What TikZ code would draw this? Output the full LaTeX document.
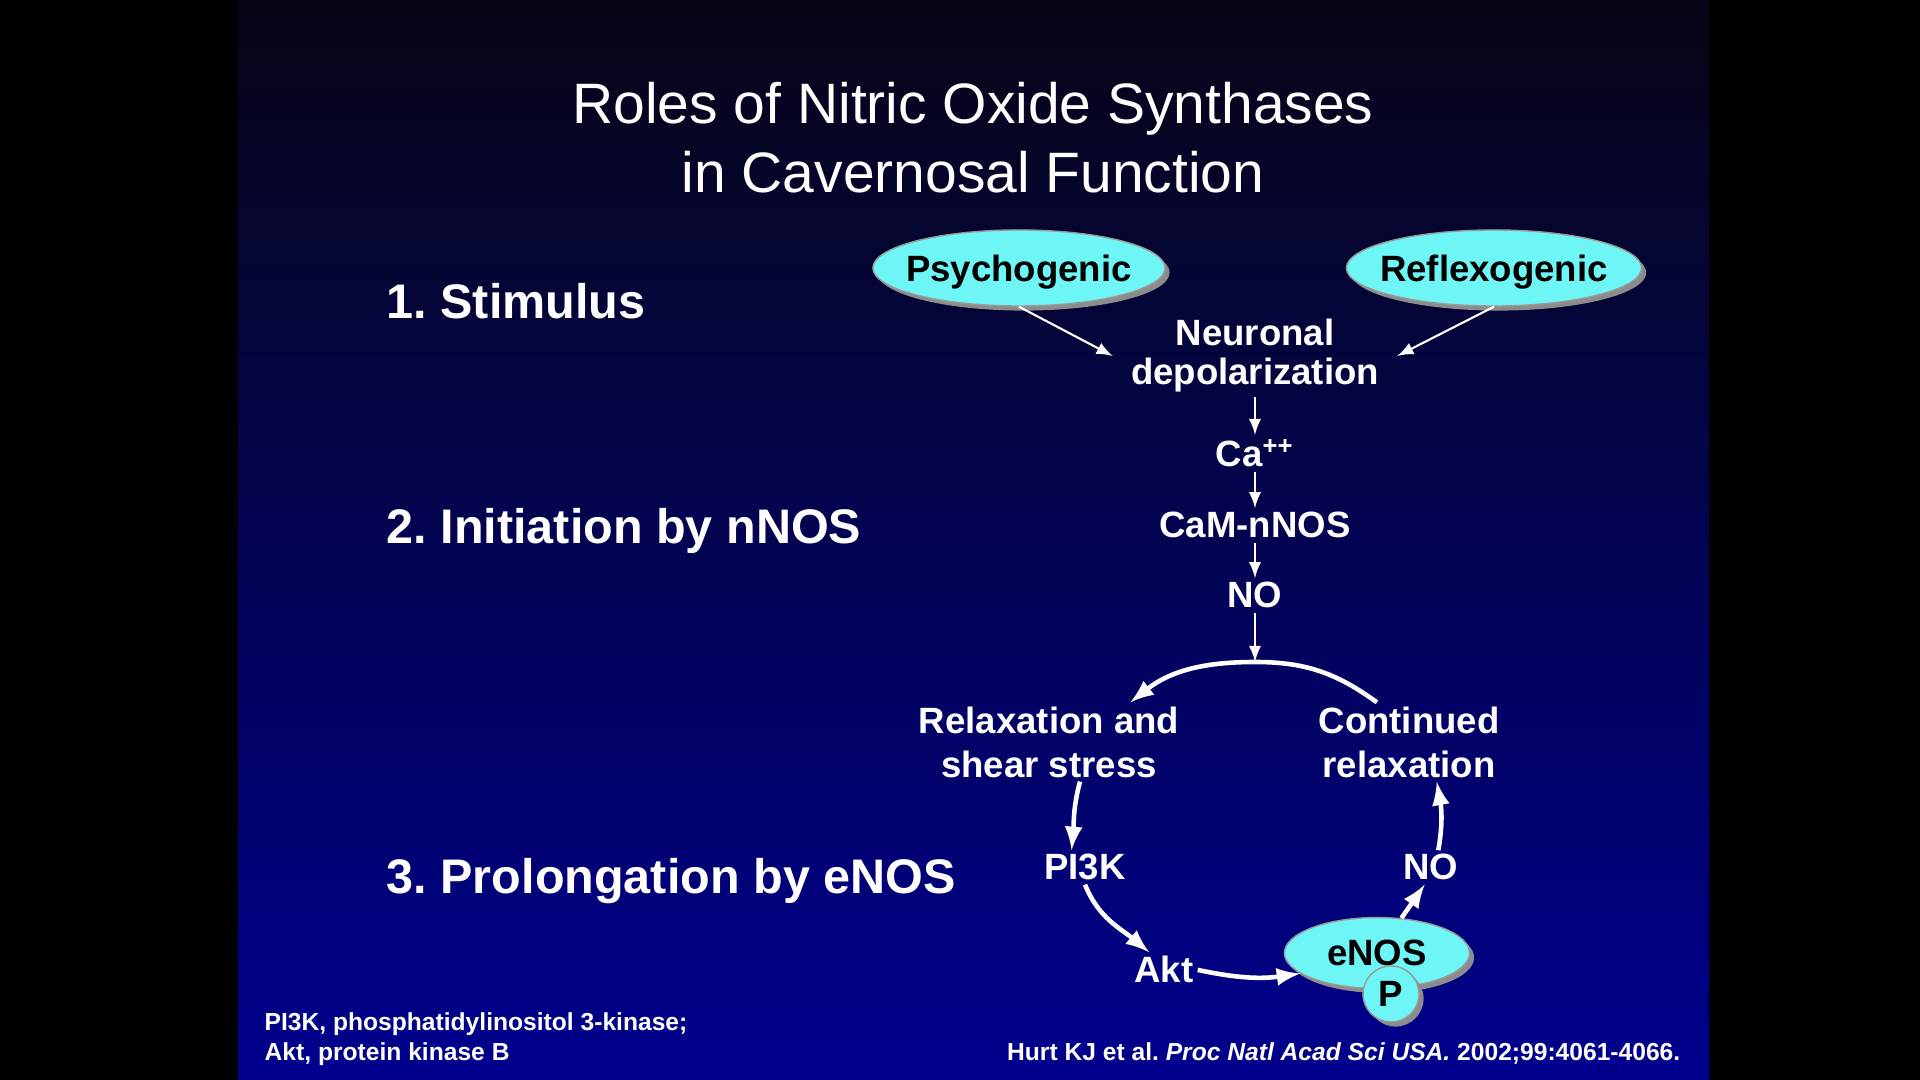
\documentclass[tikz,border=0pt]{standalone}
\usepackage{fontspec}
\setmainfont{Liberation Sans}
\usepackage{xcolor}
\usepackage{tikz}
\usetikzlibrary{shapes,arrows,positioning,calc,shadows}

\definecolor{slidetop}{RGB}{6,6,22}
\definecolor{slidemid}{RGB}{5,5,95}
\definecolor{slidebot}{RGB}{0,0,142}
\definecolor{bubblecyan}{RGB}{110,245,245}

\begin{document}
\frenchspacing
\begin{tikzpicture}[
  x=0.01cm, y=0.01cm,
  headline/.style={text=white, font=\fontsize{16.2}{19.6}\selectfont, anchor=base, inner sep=0pt},
  stage/.style={text=white, font=\fontsize{13.8}{16}\selectfont\bfseries, anchor=base west, inner sep=0pt},
  txt/.style={text=white, font=\fontsize{10.4}{12.5}\selectfont\bfseries, inner sep=1pt, align=center},
  bubble/.style={ellipse, draw=black!40, line width=0.4pt, fill=bubblecyan, text=black,
    font=\fontsize{10.4}{12}\selectfont\bfseries, inner xsep=-3pt, inner ysep=3.5pt, text depth=0pt,
    drop shadow={shadow xshift=1.3pt, shadow yshift=-1.3pt, fill=black!45, opacity=1}},
  smallarrow/.style={draw=white, line width=0.6pt, -latex},
  bigarrow/.style={draw=white, line width=1.3pt, -latex},
  foot/.style={text=white, font=\fontsize{7}{8.5}\selectfont\bfseries, inner sep=0pt},
]
\useasboundingbox (0,0) rectangle (1920,-1080);
\fill[black] (0,0) rectangle (1920,-1080);
\shade[top color=slidetop, middle color=slidemid, bottom color=slidebot] (238,0) rectangle (1709,-1080);

\node[headline] (title1) at (973,-124) {Roles of Nitric Oxide Synthases};
\node[headline] (title2) at (973,-193) {in Cavernosal Function};

\node[stage] (stim) at (386,-319) {1. Stimulus};
\node[stage] (init) at (386,-544) {2. Initiation by nNOS};
\node[stage] (prolong) at (386,-894) {3. Prolongation by eNOS};

\node[bubble, minimum width=2.92cm, minimum height=0.76cm] (psycho) at (1019,-268) {Psychogenic};
\node[bubble, minimum width=2.95cm, minimum height=0.76cm] (reflex) at (1494,-268) {Reflexogenic};

\node[txt, inner xsep=5pt, font=\fontsize{10.4}{11.1}\selectfont\bfseries] (depol) at (1255,-356) {Neuronal\\depolarization};
\node[txt, anchor=base] (calcium) at (1255,-467) {Ca\textsuperscript{++}};
\node[txt, anchor=base] (camnos) at (1255,-538) {CaM-nNOS};
\node[txt, anchor=base] (no) at (1255,-608) {NO};
\coordinate (arctop) at (1255,-662);

\node[txt] (relax) at (1049,-742) {Relaxation and\\shear stress};
\node[txt] (contrelax) at (1409,-742) {Continued\\relaxation};
\node[txt, anchor=base] (pik) at (1085,-880) {PI3K};
\node[txt, anchor=base] (akt) at (1164,-983) {Akt};
\node[txt, anchor=base] (noe) at (1431,-880) {NO};
\node[bubble, minimum width=1.85cm, minimum height=0.70cm] (enos) at (1377,-953) {eNOS};
\node[bubble, circle, minimum size=0.56cm] (phos) at (1391,-994) {P};

\draw[smallarrow] (psycho.south) -- (depol.west);
\draw[smallarrow] (reflex.south) -- (depol.east);
\draw[smallarrow] (depol) -- (calcium);
\draw[smallarrow] (calcium) -- (camnos);
\draw[smallarrow] (camnos) -- (no);
\draw[smallarrow] (no) -- (arctop);

\draw[bigarrow] (contrelax.129) to[out=144, in=0] (arctop) to[out=180, in=38] (relax.26);
\draw[bigarrow] (relax.-52) to[out=-105, in=85] (pik.128);
\draw[bigarrow] (pik.south) to[out=-68, in=140] (akt.130);
\draw[bigarrow] (akt.east) to[out=-12, in=188] (enos.195);
\draw[bigarrow] (enos.55) -- (noe.-110);
\draw[bigarrow] (noe.67) to[out=80, in=-80] (contrelax.-55);

\node[foot, anchor=base west] (abbr1) at (264,-1031) {PI3K, phosphatidylinositol 3-kinase;};
\node[foot, anchor=base west] (abbr2) at (264,-1061) {Akt, protein kinase B};
\node[foot, anchor=base east] (cite) at (1681,-1061) {Hurt KJ et al. \textit{Proc Natl Acad Sci USA.} 2002;99:4061-4066.};
\end{tikzpicture}
\end{document}
